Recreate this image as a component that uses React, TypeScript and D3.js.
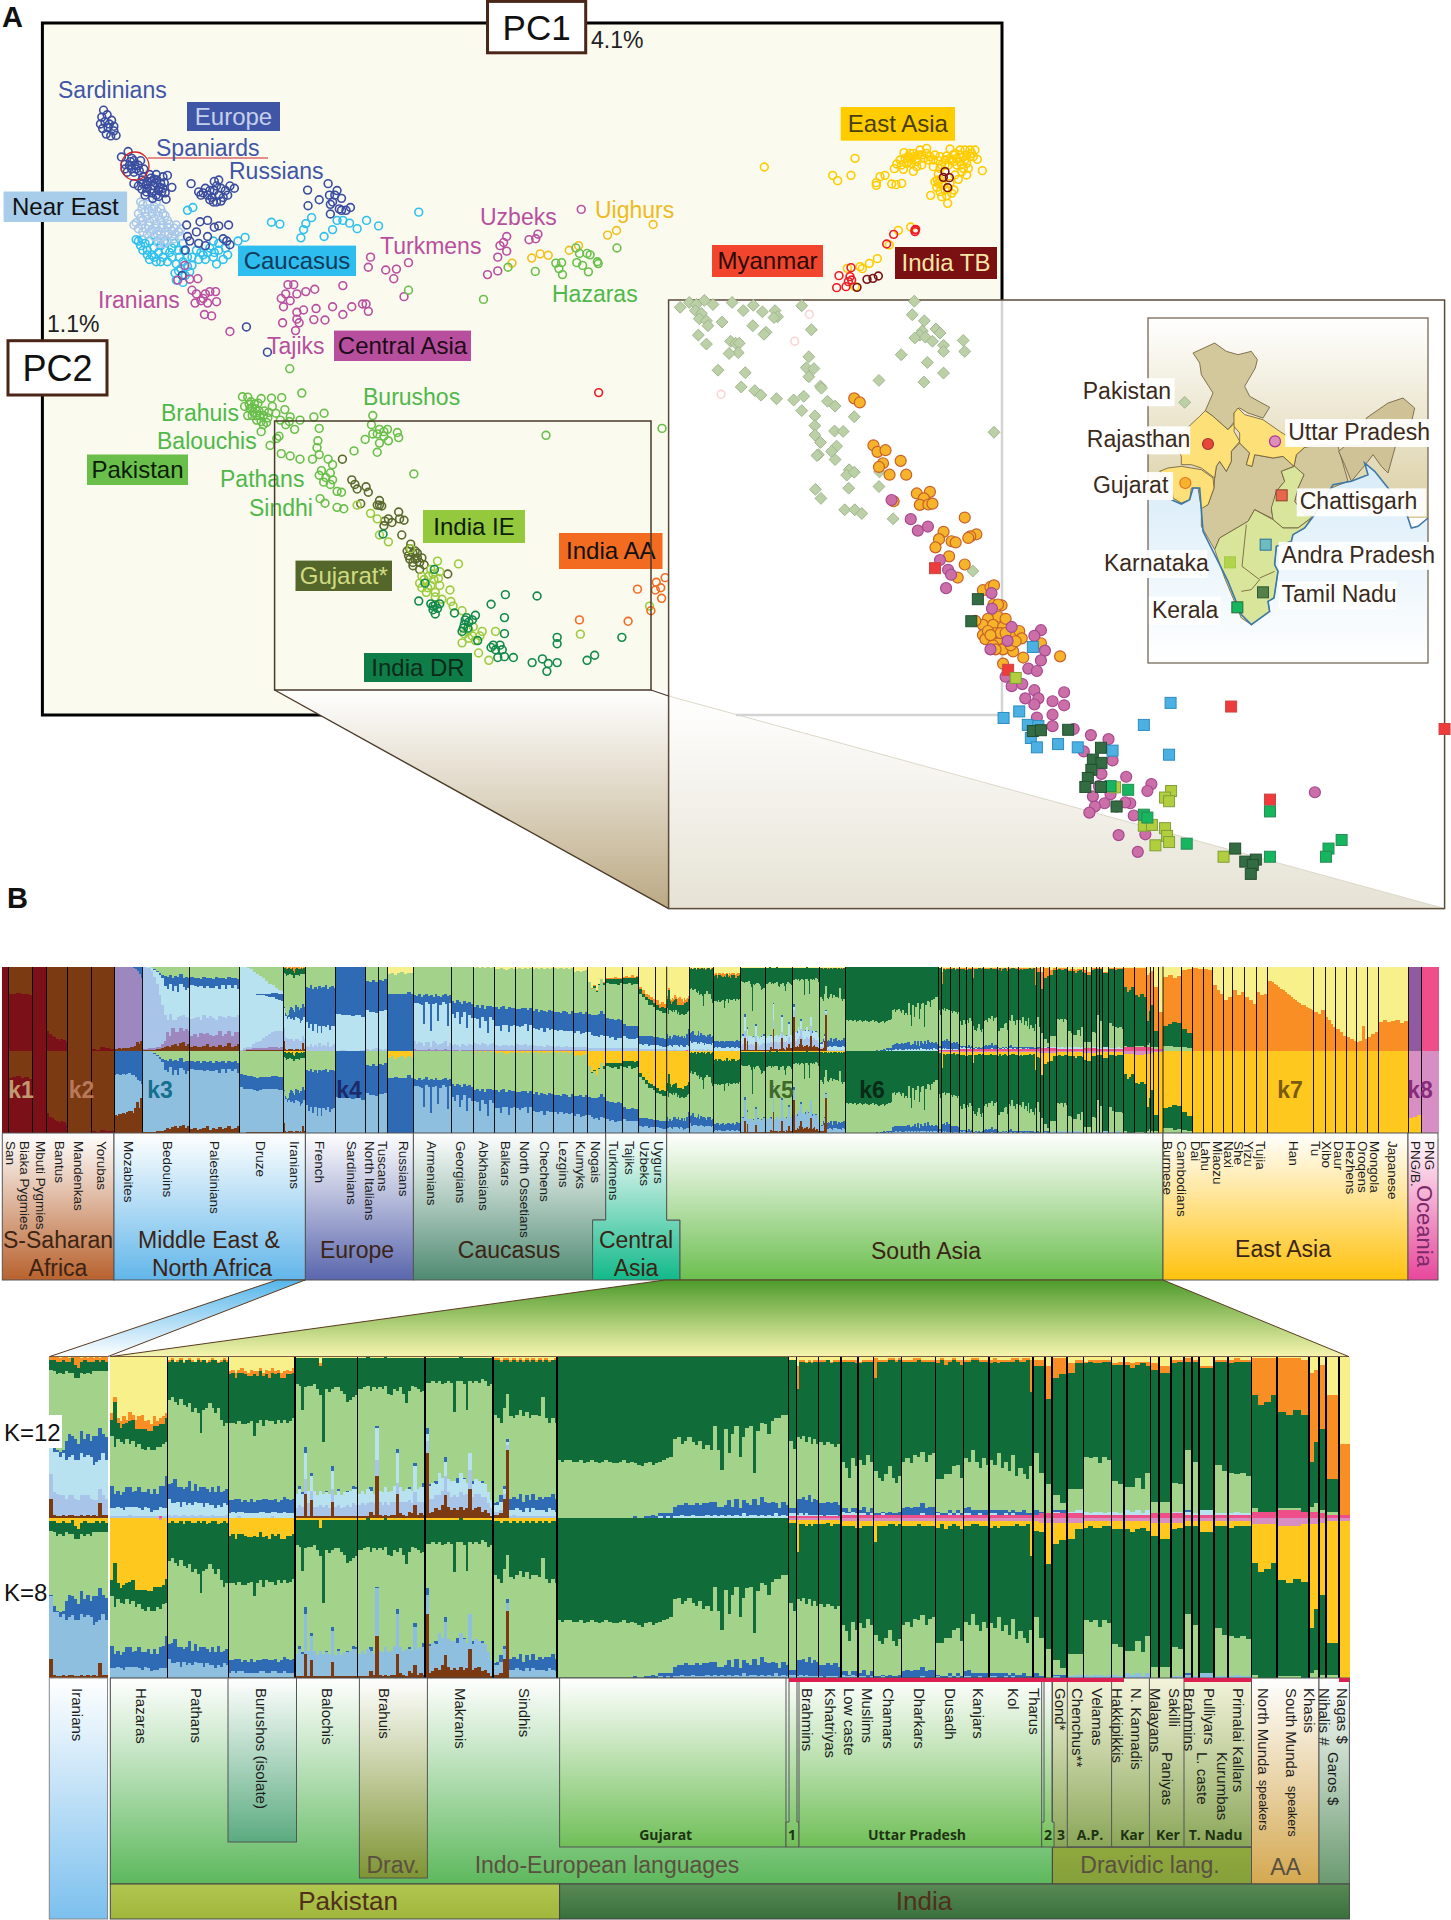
import React from 'react';
import * as d3 from 'd3';

type Pt = [number, number];
type Row = Record<string, number>;
interface Pop { name: string; n: number; rows: Row[] }
type Scale = d3.ScaleLinear<number, number>;

// ---------- PCA scores ----------
const sardinians: Pt[] = [[232,240],[228,255],[240,250],[225,270],[235,265],[250,262],[242,278],[255,285],[238,292],[260,295],[248,296],[230,280],[245,270],[255,275]];
const europeans: Pt[] = [[287,330],[272,342],[300,350],[310,360],[290,360],[285,375],[300,375],[315,350],[295,345],[280,358],[305,368],[322,368],[300,400],[320,385],[340,395],[330,410],[350,380],[365,385],[375,382],[385,408],[370,420],[372,434],[355,428],[340,420],[325,425],[310,405],[345,405],[360,400],[335,380],[320,400],[355,415],[330,395],[345,390],[365,410],[350,425],[292,352],[302,360],[295,368],[312,372],[280,368],[318,392],[328,402],[338,388],[348,398],[358,408],[368,398],[338,412],[328,418],[318,412],[352,392],[362,418],[342,432],
  [428,400],[445,418],[460,410],[450,425],[470,415],[480,395],[490,392],[495,410],[475,430],[485,440],[500,430],[510,425],[525,410],[515,405],[470,435],[455,420],[490,425],[505,415],[465,425],[480,415],[485,405],[478,440],[495,438],
  [689,414],[735,400],[715,435],[690,448],[738,425],[755,415],[765,432],[740,445],[740,466],[760,455],[785,452],[775,458],[765,458],[750,425],[745,440],
  [418,490],[448,483],[420,515],[465,480],[480,495],[490,492],[512,490],[440,505],[465,515],[425,525],[445,530],[460,535],[415,545],[500,520],[515,533],[508,525],[408,600],[552,712],[599,767]];
const nearEast: Pt[] = [[315,440],[330,445],[345,450],[360,455],[310,465],[325,462],[340,465],[355,470],[370,470],[305,485],[320,480],[335,483],[350,488],[365,490],[380,488],[395,490],[310,498],[325,497],[340,500],[355,503],[370,505],[385,503],[400,505],[345,515],[360,520],[375,525],[390,520],[405,515],[330,510],[320,445],[350,440],[375,480],[360,510],[385,515],[340,455],[300,490],[318,455],[332,455],[352,460],[365,465],[315,475],[328,472],[345,477],[360,480],[375,495],[390,497],[318,490],[333,492],[348,497],[362,497],[378,510],[392,510],[352,510],[338,505],[405,498],[320,505],[368,530],[355,530]];
const caucasus: Pt[] = [[420,458],[432,452],[310,525],[320,545],[335,565],[350,570],[365,560],[380,550],[325,530],[345,540],[360,535],[390,530],[305,522],[400,590],[395,610],[410,615],[420,580],[395,575],[430,560],[455,555],[470,540],[485,575],[500,565],[510,555],[490,530],[478,525],[549,517],[533,525],[480,550],[460,565],[440,545],[420,560],[608,484],[627,488],[674,518],[680,500],[685,487],[698,474],[726,515],[745,500],[755,480],[768,480],[783,486],[800,498],[821,480],[848,492],[938,462],[315,535],[330,545],[340,555],[355,550],[370,545],[385,560],[375,570],[360,570],[345,560],[330,555],[318,522],[335,525],[352,525],[368,525],[385,540],[400,545],[410,570],[405,585],[392,595],[415,600],[425,592],[445,565],[450,550],[465,550],[478,560],[490,545],[505,540],[430,578],[410,530],[402,560],[412,545]];
const centralAsia: Pt[] = [[430,632],[443,607],[425,608],[398,610],[414,578],[440,640],[455,650],[470,635],[483,635],[485,657],[460,640],[450,655],[437,660],[465,660],[458,685],[474,688],[515,722],
  [645,620],[658,620],[640,640],[630,650],[650,655],[665,640],[685,635],[705,630],[768,622],[635,668],[665,680],[680,675],[708,672],[745,668],[768,685],[788,668],[812,662],[820,662],[825,678],[665,695],[703,696],[728,697],[633,703],[670,703],[662,720],
  [830,560],[825,582],[864,588],[888,586],[915,572],[882,607],[905,646],[1135,515],[1128,528],[1120,535],[1135,547],[1115,560],[1185,522],[1205,510],[1200,520],[1115,590],[1092,598],[1302,456]];
const uighurs: Pt[] = [[1147,573],[1191,562],[1210,553],[1228,556],[1275,545],[1296,535],[1361,512],[1381,502],[1463,489]];
const pakistan: Pt[] = [[1138,582],[1199,591],[1245,573],[1258,572],[1252,585],[1260,598],[1290,540],[1298,552],[1315,552],[1322,555],[1292,572],[1305,578],[1318,592],[1338,570],[1340,574],[1382,540],[1083,652],[915,632],[649,803],
  [543,864],[555,865],[585,868],[608,867],[631,866],[676,856],[548,885],[560,890],[570,880],[580,895],[590,905],[575,915],[565,905],[590,925],[600,910],[555,905],[610,885],[638,892],[650,908],[672,915],[660,935],[640,925],[726,900],[703,908],[715,933],[625,950],[605,970],[585,940],[620,955],[835,905],[832,925],[850,935],[835,945],[868,935],[890,942],[893,953],[860,950],[818,957],[850,965],[845,985],[870,960],[793,982],[712,960],[710,975],[630,988],[650,993],[672,1000],[700,1000],[715,990],[735,1000],[745,1012],[720,1025],[740,1030],[725,1050],[740,1055],[755,1070],[765,1072],[717,1086],[728,1096],[755,1105],[770,1108],[927,1032],[1223,948],[1483,933],
  [562,875],[572,890],[582,905],[568,898],[558,880],[578,878],[592,895],[602,898],[575,905],[585,918],[597,920],[565,888],[618,900],[628,915],[648,918],[845,945],[860,940],[715,1035],[730,1040],[745,1045]];
const gujaratStar: Pt[] = [[767,1000],[788,1045],[795,1055],[800,1065],[820,1060],[825,1072],[808,1097],[850,1090],[845,1100],[855,1102],[893,1115],[905,1133],[870,1130],[860,1145],[878,1138],[900,1165],[920,1185],[930,1200],[915,1210],[925,1225],[940,1240],[950,1230],[935,1215],[1003,1250],[895,1130],[918,1195],[925,1205],[935,1205],[918,1218],[930,1218],[940,1225],[925,1232],[945,1215],[912,1200],[850,1100],[862,1135]];
const indiaIE: Pt[] = [[800,1100],[830,1118],[845,1130],[850,1165],[870,1180],[920,1195],[945,1255],[965,1240],[980,1222],[985,1245],[940,1270],[955,1290],[975,1290],[965,1275],[1008,1285],[1027,1228],[1010,1310],[990,1305],[1035,1330],[1060,1365],[1080,1375],[1050,1390],[1035,1400],[1072,1422],[1095,1438],[1110,1375],[1300,1381],[1455,1320],[1015,1320],[1040,1380],[1065,1395],[950,1262],[960,1255],[972,1262],[958,1280],[945,1280],[985,1275],[975,1300],[970,1250],[982,1260],[1050,1372],[1058,1385],[1075,1385]];
const indiaDR: Pt[] = [[858,1163],[973,1240],[952,1270],[938,1309],[970,1320],[980,1325],[975,1337],[1018,1335],[1045,1345],[1040,1360],[1065,1340],[1035,1375],[1100,1316],[1132,1295],[1203,1298],[1130,1345],[1130,1380],[1105,1405],[1125,1415],[1130,1430],[1115,1432],[1150,1432],[1248,1388],[1248,1402],[1192,1443],[1215,1435],[1228,1445],[1248,1443],[1225,1462],[1332,1427],[1315,1438],[1393,1388],[1070,1395],[1100,1410],[965,1315],[975,1318],[985,1315],[970,1328],[1042,1350],[1050,1355],[1038,1368],[1048,1368],[1058,1350],[1110,1415],[1120,1405]];
const indiaAA: Pt[] = [[1428,1283],[1298,1350],[1407,1353],[1470,1268],[1490,1258],[1480,1280],[1468,1285],[1482,1303],[1458,1330]];
const paleAA: Pt[] = [[1520,1222],[1548,1222],[1505,1270],[1565,1190]];
const indiaRed: Pt[] = [[1341,855]];

// upper right corner of panel A
const eastAsia: Pt[] = [[193,201],[465,175],[398,226],[413,242],[453,226],[529,248],[529,256],[540,230],[555,226],[575,252],[588,254],[605,250],[583,206],[590,192],[600,180],[610,208],[612,158],[625,170],[635,190],[640,214],[650,200],[655,165],[660,150],[680,145],[672,175],[690,170],[700,180],[720,170],[735,180],[750,147],[765,160],[780,150],[795,150],[810,150],[825,150],[820,170],[832,178],[847,212],[800,190],[780,185],[760,185],[745,195],[790,205],[800,225],[775,238],[715,222],[712,240],[725,195],[710,262],[720,275],[692,286],[725,290],[740,287],[743,310],[762,270],[745,265],[730,255],[620,190],[650,185],[605,195],[630,175],[665,195],[700,200],[720,205],[760,165],[780,165],[810,170],[790,170],[630,160],
  [615,175],[640,170],[650,175],[665,165],[680,160],[685,180],[705,165],[715,182],[740,168],[750,175],[770,175],[800,165],[815,160],[795,180],[785,195],[770,195],[755,180],[735,195],[625,185],[640,160],[720,240],[725,250],[735,270],[750,250],[755,280],[715,250],[705,245],[765,225],[785,215],[805,205],
  [595,391],[632,381],[568,435],[532,476],[508,490],[487,506],[480,500],[442,505],[465,560]];
const myanmar: Pt[] = [[417,527],[410,563],[438,560],[453,503],[450,530],[445,545],[455,540],[560,432],[581,403],[645,395],[647,388],[645,390]];
const indiaTB: Pt[] = [[735,215],[730,232],[748,233],[743,263],[501,538],[519,535],[535,528],[471,562]];

// enlarged view of panel A
const pakistanInset: Pt[] = [[40,67],[58,55],[72,60],[88,50],[105,60],[70,75],[82,82],[78,95],[92,100],[95,112],[123,103],[76,135],[92,157],[143,55],[165,75],[185,62],[203,78],[228,75],[233,90],[226,92],[281,63],[300,122],[184,112],[210,128],[206,133],[140,150],[150,155],[157,155],[155,178],[137,180],[295,188],[290,215],[305,217],[295,237],[115,221],[169,227],[161,262],[188,271],[200,282],[231,291],[265,294],[285,285],[318,260],[320,265],[332,297],[347,309],[281,320],[307,333],[385,335],[307,357],[346,370],[363,371],[307,380],[318,398],[350,407],[340,420],[314,428],[311,430],[347,440],[375,465],[370,478],[385,471],[435,470],[374,510],[434,506],[308,513],[319,535],[366,563],[386,563],[400,572],[462,585],[504,52],[500,85],[524,100],[547,120],[520,125],[515,135],[505,142],[526,140],[555,130],[540,150],[601,148],[562,160],[604,175],[562,175],[478,183],[530,202],[562,228],[434,246],[523,250],[662,373],[620,713]];
const paleInset: Pt[] = [[296,84],[267,150],[121,280]];
const gujaratInset: Pt[] = [[385,290],[396,300],[423,405],[431,421],[447,417],[442,449],[434,458],[477,443],[455,477],[488,477],[509,523],[535,519],[523,535],[515,551],[532,550],[540,548],[604,582],[562,617],[627,623],[615,628],[611,632],[553,635],[578,640],[586,643],[546,655],[573,677],[604,697],[590,729],[640,760],[655,752],[662,748],[677,797],[661,795],[670,825],[650,830],[640,845],[660,845],[680,850],[700,870],[712,860],[717,878],[640,870],[645,880],[670,880],[690,885],[680,905],[700,910],[720,925],[680,940],[793,922],[755,890],[463,542],[665,865],[685,830],[625,835],[670,795],[650,860],[675,865],[695,895],[660,895],[655,870],[685,865],[665,905],[705,885]];
const uttarInset: Pt[] = [[459,539],[497,586],[511,614],[531,604],[555,686],[571,710],[577,722],[567,755],[657,767],[658,805],[697,850],[755,858],[742,872],[689,884],[655,905],[763,908],[755,932],[730,952],[747,958],[685,972],[697,995],[718,990],[742,1005],[724,1025],[750,1025],[742,1040],[778,1032],[801,1010],[801,1042],[778,1065],[747,1072],[778,1093],[820,1100],[854,1115],[889,1125],[840,1155],[897,1177],[875,1210],[924,1217],[974,1235],[966,1252],[858,1265],[893,1260],[881,1282],[862,1290],[851,1305],[905,1290],[932,1282],[922,1280],[939,1312],[962,1358],[909,1360],[947,1401],[1298,1255],[870,1240]];
const chattisgarhInset: Pt[] = [[545,706],[1132,1045],[1209,1273],[1555,1100],[690,955]];
const andraInset: Pt[] = [[739,899],[681,1073],[712,1057],[729,1090],[750,1093],[735,1122],[747,1145],[789,1137],[828,1145],[897,1153],[1012,1036],[959,1090],[1009,1163]];
const tamilInset: Pt[] = [[630,782],[617,836],[739,1105],[755,1103],[809,1102],[874,1146],[858,1175],[875,1183],[855,1200],[848,1220],[843,1242],[874,1242],[905,1290],[1140,1393],[1160,1425],[1181,1420],[1175,1433],[1171,1455]];
const keralaInset: Pt[] = [[893,1240],[928,1249],[959,1310],[966,1317],[1044,1381],[1209,1302],[1209,1413],[1325,1393],[1351,1372],[1320,1413]];
const karnatakaInset: Pt[] = [[705,975],[902,1243],[1013,1252],[1001,1268],[1009,1277],[959,1337],[975,1335],[1001,1343],[1005,1362],[1009,1377],[982,1385],[1117,1413]];

// India outlines for the small map
const mapNorth: Pt[] = [[135,105],[200,75],[235,100],[270,110],[310,100],[328,125],[322,150],[290,205],[305,235],[365,268],[345,300],[300,285],[275,270],[258,285],[260,310],[240,335],[195,295],[172,278],[195,225],[160,170],[155,135]];
const mapRajasthan: Pt[] = [[172,278],[195,295],[240,335],[260,315],[258,340],[275,370],[250,400],[250,430],[235,460],[215,430],[205,445],[200,480],[160,450],[130,440],[100,440],[100,415],[78,370],[128,320],[155,295]];
const mapUttar: Pt[] = [[258,285],[270,270],[290,290],[345,305],[395,340],[470,388],[445,410],[438,445],[405,415],[375,420],[320,410],[312,445],[295,440],[305,405],[275,375],[275,345],[258,325]];
const mapGujarat: Pt[] = [[35,460],[60,450],[100,445],[160,455],[195,480],[198,510],[180,560],[160,572],[150,510],[130,510],[125,545],[100,555],[75,540],[70,490]];
const mapCentral: Pt[] = [[275,375],[305,405],[295,440],[312,445],[320,410],[375,420],[405,415],[438,445],[400,460],[410,490],[385,520],[370,580],[380,605],[320,575],[300,610],[215,660],[200,695],[160,625],[160,570],[180,560],[198,510],[200,480],[205,445],[215,430],[235,460],[250,430],[250,400]];
const mapEastState: Pt[] = [[400,460],[440,445],[468,470],[450,510],[440,550],[470,590],[495,595],[450,630],[405,630],[375,605],[370,570],[385,520],[410,490]];
const mapSouth: Pt[] = [[320,575],[375,605],[405,630],[450,630],[490,600],[470,630],[435,650],[430,670],[385,685],[380,740],[390,760],[378,840],[360,850],[365,880],[330,905],[310,920],[280,900],[230,780],[200,695],[215,660],[300,610]];
const mapBorders: Pt[] = [[295,620],[282,745],[335,785],[310,815],[280,820]];
const mapBorders2: Pt[] = [[335,780],[380,760]];
const mapBihar: Pt[] = [[470,388],[520,380],[570,385],[600,490],[550,510],[495,595],[470,590],[440,550],[450,510],[468,470],[438,445],[445,410]];
const mapNorthEast: Pt[] = [[572,400],[590,385],[650,380],[655,300],[720,255],[765,240],[800,270],[790,315],[745,375],[720,465],[700,445],[675,410],[660,430],[610,490],[590,440]];
const mapCoast: Pt[] = [[70,545],[100,558],[125,545],[135,510],[155,510],[160,575],[165,640],[200,710],[240,790],[280,890],[310,920],[365,880],[360,850],[378,840],[390,760],[380,740],[385,685],[430,670],[435,650],[470,630],[500,590],[555,500],[610,490],[660,470],[650,435],[680,460],[720,510],[770,570],[790,630],[810,625],[840,600]];

const mapPlaces: { label: string; at: Pt; labelAt: Pt }[] = [
  { label: 'Pakistan', at: [110, 253], labelAt: [838, 292] },
  { label: 'Rajasthan', at: [180, 378], labelAt: [846, 410] },
  { label: 'Uttar Pradesh', at: [381, 370], labelAt: [1245, 392] },
  { label: 'Gujarat', at: [112, 495], labelAt: [858, 522] },
  { label: 'Chattisgarh', at: [401, 532], labelAt: [1268, 562] },
  { label: 'Andra Pradesh', at: [353, 680], labelAt: [1232, 693] },
  { label: 'Karnataka', at: [246, 733], labelAt: [880, 713] },
  { label: 'Tamil Nadu', at: [345, 823], labelAt: [1232, 790] },
  { label: 'Kerala', at: [268, 868], labelAt: [975, 827] },
];

// ---------- ancestry proportions (percent), panel B ----------
const pop = (name: string, n: number, filler: string, keys: string[], rows: number[][]): Pop => ({
  name, n,
  rows: rows.map(vals => {
    const row: Row = {};
    keys.forEach((k, i) => { row[k] = vals[i] || 0; });
    row[filler] = Math.max(0, 100 - d3.sum(keys, (_, i) => vals[i] || 0));
    return row;
  }),
});

const brownOnly = ['brown'];
const menaKeys = ['light', 'blue', 'cyan', 'mauve', 'brown'];
const euroKeys = ['light', 'blue', 'peri'];
const caucKeys = ['yellow', 'light', 'blue', 'peri', 'mauve'];
const steppeKeys = ['yellow', 'orange', 'dark', 'light', 'blue', 'peri'];
const eastKeys = ['yellow', 'dark', 'light'];
const southKeys = ['dark', 'yellow', 'orange', 'blue', 'cyan', 'peri', 'brown', 'pink'];

const iranians = pop('Iranians', 47, 'light', southKeys, [[6,0,2,1,24,15,12],[7,0,2,4,25,14,2],[8,0,3,1,26,14,1],[7,1,2,3,24,13,1],[9,0,2,2,26,12,2],[6,0,3,12,24,11,1],[7,1,2,14,24,12,2],[9,0,1,12,25,12,2],[8,0,5,13,24,11,1],[6,0,7,10,25,10,1],[7,1,2,14,26,12,2],[9,0,2,11,24,13,1],[7,1,2,13,25,12,2],[8,0,3,10,26,11,1],[6,1,2,18,22,9,2],[7,0,2,16,24,10,1],[6,1,2,20,18,9,9],[7,0,2,12,26,12,2],[6,0,3,14,24,10,2]]);

const overviewLeft: Pop[] = [
  pop('San', 13, 'red', brownOnly, [[0]]),
  pop('Biaka Pygmies', 52, 'red', brownOnly, [[33],[32],[31],[33],[32],[34]]),
  pop('Mbuti Pygmies', 30, 'red', brownOnly, [[0]]),
  pop('Bantus', 45, 'red', brownOnly, [[76],[80],[82],[84],[86],[88],[86],[87],[90]]),
  pop('Mandenkas', 51, 'red', brownOnly, [[100]]),
  pop('Yorubas', 49, 'red', brownOnly, [[98],[99],[96],[97],[98]]),
  pop('Mozabites', 61, 'mauve', ['mz', 'mb', 'brown', 'blue'], [[29,20,2,0],[28,19,2,0],[30,20,3,0],[29,21,2,0],[28,21,3,0],[30,20,3,0],[28,22,3,0],[27,24,3,0],[29,22,5,0],[28,20,4,1],[29,24,6,3],[30,28,10,5],[28,22,8,9],[27,30,12,14]]),
  pop('Bedouins', 102, 'peri', menaKeys, [[0,0,0,1,1],[0,0,1,1,1],[0,0,2,2,1],[1,0,4,2,1],[3,1,8,2,1],[5,1,14,3,2],[8,2,24,3,2],[10,4,32,5,3],[11,12,34,8,4],[12,14,38,16,6],[10,10,36,12,5],[13,16,34,20,7],[11,12,40,14,8],[12,18,30,16,6],[9,12,38,18,9],[14,10,34,14,10],[12,16,32,20,6],[13,12,36,15,8]]),
  pop('Palestinians', 107, 'peri', menaKeys, [[12,10,40,12,5],[14,9,38,14,6],[13,11,36,12,4],[15,8,40,16,5],[12,13,33,14,6],[14,9,38,13,8],[13,12,34,15,4],[15,10,36,12,6],[12,11,40,14,5],[14,13,32,16,7],[13,9,38,12,5],[15,12,34,14,6],[12,10,37,15,9],[14,11,35,13,5],[13,9,38,16,6],[15,12,30,14,8]]),
  pop('Druze', 94, 'cyan', ['light', 'blue', 'cb', 'cl', 'peri', 'mauve', 'brown'], [[0,0,16,28,1,0,0],[0,0,17,29,2,1,0],[1,0,16,30,2,1,1],[3,0,15,28,3,1,1],[6,0,16,26,5,2,1],[9,1,15,24,7,2,1],[11,2,14,21,9,2,1],[14,2,13,18,12,2,1],[17,3,12,15,14,2,1],[20,4,11,12,16,3,1],[22,5,10,9,18,3,1],[25,7,9,6,19,3,1],[28,8,8,4,20,2,1],[29,9,7,3,18,4,1]]),
  { ...iranians },
  pop('French', 64, 'cyan', euroKeys, [[24,42,6],[25,48,4],[22,46,8],[26,50,5],[24,44,7],[27,52,4],[23,47,9],[25,54,5],[24,46,7],[22,50,6],[26,43,10],[24,51,5],[23,48,6],[25,45,8]]),
  pop('Sardinians', 65, 'cyan', euroKeys, [[0,56,0],[0,57,1],[0,58,0],[0,59,0],[0,57,0],[0,60,1]]),
  pop('North Italians', 27, 'cyan', euroKeys, [[17,35,2],[18,36,1],[16,38,2],[18,37,3]]),
  pop('Tuscans', 20, 'cyan', euroKeys, [[16,37,2],[17,36,1],[15,36,2]]),
  pop('Russians', 56, 'blue', ['yellow', 'light'], [[9,24],[7,26],[10,22],[8,25],[6,27],[9,24],[7,23],[8,25]]),
  pop('Armenians', 81, 'cyan', caucKeys, [[0,34,9,9,2],[0,35,8,7,1],[0,33,11,9,1],[0,36,9,8,1],[0,34,34,5,1],[0,32,10,9,1],[0,35,9,8,2],[0,34,42,4,1],[0,36,8,10,1],[0,33,10,7,2],[0,35,30,6,1],[0,36,9,7,1],[0,34,8,8,1],[0,33,11,9,2],[0,35,36,5,1],[0,34,9,8,1]]),
  pop('Georgians', 47, 'cyan', caucKeys, [[0,41,15,6,1],[0,43,18,7,1],[0,40,14,6,1],[0,42,26,5,0],[0,44,16,7,1],[0,41,13,6,1],[0,43,30,5,1],[0,42,15,7,1],[0,44,17,6,1]]),
  pop('Abkhasians', 46, 'cyan', caucKeys, [[1,47,13,8,1],[0,46,16,7,1],[1,48,24,6,1],[0,46,14,8,1],[1,49,15,7,1],[0,47,32,5,1],[1,46,13,7,1],[0,48,16,8,1]]),
  pop('Balkars', 45, 'cyan', caucKeys, [[3,45,22,6,1],[3,47,20,5,1],[2,46,28,5,1],[3,44,22,6,1],[4,46,19,6,1],[3,45,30,5,1],[2,47,21,6,1],[3,46,20,5,1]]),
  pop('North Ossetians', 36, 'cyan', caucKeys, [[3,47,20,7,1],[2,48,22,6,1],[3,46,21,6,1],[2,47,19,7,1],[3,49,24,5,1],[2,47,20,6,1]]),
  pop('Chechens', 46, 'cyan', caucKeys, [[3,50,20,6,1],[2,48,24,5,1],[3,51,21,5,1],[2,49,22,5,1],[3,50,25,4,1],[2,52,19,6,1],[3,49,23,5,1],[2,51,21,5,1]]),
  pop('Lezgins', 43, 'cyan', caucKeys, [[2,52,21,4,1],[3,51,23,5,1],[2,53,20,4,1],[3,50,24,4,1],[2,52,22,5,1],[3,53,21,4,1],[2,51,23,4,1]]),
  pop('Kumyks', 30, 'cyan', caucKeys, [[6,49,24,4,1],[5,50,22,4,1],[6,48,26,3,1],[5,51,23,4,1],[4,50,24,4,1]]),
  pop('Nogais', 38, 'cyan', steppeKeys, [[18,0,0,38,22,3],[25,1,1,30,24,3],[22,1,2,32,26,3],[28,1,1,28,24,3],[20,1,1,34,28,3],[15,0,0,38,28,3],[18,1,3,34,26,3]]),
  pop('Turkmens', 37, 'cyan', steppeKeys, [[14,1,4,42,22,3],[13,2,5,42,23,3],[14,1,6,41,22,3],[12,3,5,43,24,3],[14,1,7,40,23,3],[13,2,4,44,22,3]]),
  pop('Tajiks', 35, 'cyan', steppeKeys, [[12,1,7,48,15,3],[11,2,8,50,14,3],[12,1,6,52,15,3],[10,3,9,48,16,3],[12,2,7,50,15,3],[11,1,8,51,14,3]]),
  pop('Uzbeks', 36, 'cyan', steppeKeys, [[24,3,5,50,10,2],[28,4,4,46,11,2],[32,4,4,42,10,2],[34,5,6,38,11,2],[36,4,5,38,10,2],[38,5,5,36,9,2]]),
  pop('Uygurs', 24, 'cyan', steppeKeys, [[40,5,6,33,9,2],[44,5,4,32,9,2],[42,6,7,30,10,2],[44,5,6,31,9,2]]),
];

const overviewEast: Pop[] = [
  pop('Burmese', 39, 'orange', eastKeys, [[12,24,6],[10,26,6],[14,30,4],[11,28,5]]),
  pop('Cambodians', 24, 'orange', eastKeys, [[4,22,4],[3,18,3]]),
  pop('Dai', 23, 'orange', eastKeys, [[2],[3]]),
  pop('Lahu', 20, 'orange', eastKeys, [[3],[4]]),
  pop('Miaozu', 24, 'orange', eastKeys, [[22],[28],[32]]),
  pop('Naxi', 20, 'orange', eastKeys, [[40],[36]]),
  pop('She', 25, 'orange', eastKeys, [[28],[34],[30]]),
  pop('Yizu', 25, 'orange', eastKeys, [[36],[40],[44]]),
  pop('Tujia', 24, 'orange', eastKeys, [[30],[34],[32]]),
  pop('Han', 99, 'orange', eastKeys, [[17],[17],[18],[20],[22],[24],[26],[28],[30],[32],[34],[36],[38],[40],[42],[43],[45],[46],[48],[49],[50],[52]]),
  pop('Tu', 25, 'orange', eastKeys, [[54],[56],[52]]),
  pop('Xibo', 22, 'orange', eastKeys, [[60],[64],[68],[72]]),
  pop('Daur', 23, 'orange', eastKeys, [[74],[78],[82]]),
  pop('Hezhens', 22, 'orange', eastKeys, [[84],[86],[88]]),
  pop('Oroqens', 23, 'orange', eastKeys, [[90],[88],[70],[86]]),
  pop('Mongola', 24, 'orange', eastKeys, [[84],[80],[78]]),
  pop('Japanese', 64, 'orange', eastKeys, [[66],[64],[66],[65],[64],[67],[65]]),
  pop('PNG/B.', 28, 'purple', ['pg'], [[18],[20],[22]]),
  pop('PNG', 36, 'pink', ['x'], [[0]]),
];

const L = 'light';
const guj = (dark: number, blue = 0, cyan = 0) => [dark, 0, 0, blue, cyan];
const southAsians: Pop[] = [
  pop('Hazaras', 123, L, southKeys, [[10,35,4,14,5,1],[28,25,3,9,5,1],[10,38,3,10,6,1],[9,40,4,8,5,1],[12,37,5,11,4,1],[10,39,2,12,6,1],[14,34,6,12,5,2],[13,36,3,9,6,1],[11,39,6,10,6,1],[9,37,8,13,5,1],[12,36,9,11,4,1],[13,40,5,9,6,1],[10,39,7,12,5,1],[12,42,4,11,3,1],[15,37,6,13,4,1],[13,40,3,10,4,1],[14,38,4,13,6,0,0,1],[12,37,5,14,5,1],[15,35,3,20,5,1]]),
  pop('Pathans', 130, L, southKeys, [[24,2,1,9,10,2],[23,1,1,13,8,1],[25,3,0,15,7,2],[27,2,1,9,9,1],[24,1,1,12,6,1],[26,3,1,8,8,2],[29,2,0,11,7,1],[27,1,1,14,8,1],[31,2,1,9,6,2],[29,3,0,11,9,1],[33,1,1,8,8,1],[44,2,1,10,7,2],[31,2,0,12,6,1],[28,3,1,9,8,1],[26,2,1,8,7,1],[30,1,1,11,6,2],[33,2,0,10,5,1],[28,3,1,12,7,1],[36,2,1,9,6,1],[41,1,1,8,8,1],[38,2,1,10,6,2]]),
  pop('Burushos', 143, L, southKeys, [[30,9,2,8,3],[31,8,2,7,4],[29,10,3,9,3],[30,8,2,8,3,1],[32,7,3,6,4],[31,9,2,8,3],[29,10,2,7,3],[28,8,4,9,3],[38,9,2,7,3],[29,9,3,8,3],[30,7,2,7,4],[31,10,2,8,4],[28,8,3,9,3],[27,9,4,8,3],[30,7,3,7,3,1],[31,9,2,8,4],[29,8,2,7,3],[28,10,3,8,3],[26,9,4,9,4],[30,8,3,9,3],[29,9,2,8,3],[28,7,3,9,3]]),
  pop('Balochis', 134, L, southKeys, [[16,1,0,0,9,5,1],[17,1,0,2,10,7,1],[32,1,0,1,8,6,1],[18,1,0,4,16,9,15],[17,1,0,0,8,8,1],[17,1,0,2,9,6,11],[16,1,0,0,10,6,1],[19,1,0,0,7,6,1],[18,4,2,0,9,7,1],[52,1,0,0,8,6,1],[19,1,0,1,8,7,1],[21,1,0,0,9,5,1],[19,1,0,3,11,8,10],[18,1,0,0,7,6,1],[18,1,0,1,9,7,1],[20,1,0,0,8,5,1],[22,1,0,0,9,6,1],[27,1,0,1,8,7,1],[26,1,0,0,10,6,1],[24,1,0,2,9,8,1],[23,1,0,1,10,7,1]]),
  pop('Brahuis', 145, L, southKeys, [[19,1,0,0,7,7,1],[19,1,0,0,8,8,1],[18,1,0,0,7,7,1],[18,0,0,0,9,8,1],[20,1,0,2,7,6,4],[18,1,0,0,6,7,2],[19,1,0,1,20,10,26],[18,1,0,0,7,8,2],[19,1,0,0,8,7,1],[18,0,0,0,9,8,2],[22,1,0,0,8,7,1],[23,1,0,0,7,8,2],[19,1,0,0,10,8,2],[20,1,0,3,18,7,15],[18,1,0,0,9,7,3],[22,1,0,0,7,8,2],[28,1,0,0,8,9,1],[20,1,0,1,7,7,4],[17,1,0,0,8,6,3],[18,1,0,2,16,8,8],[19,1,0,0,8,8,2],[21,1,0,0,9,7,3],[20,1,0,3,9,8,2]]),
  pop('Makranis', 145, L, southKeys, [[15,1,0,4,4,8,40],[15,1,0,1,8,9,3],[14,1,0,0,10,8,4],[15,1,0,2,7,8,6],[14,1,0,0,14,9,5],[16,1,0,0,8,9,8],[15,1,0,3,9,12,14],[14,1,0,0,8,9,7],[15,1,0,0,10,8,5],[33,1,0,0,9,8,6],[14,1,0,3,9,8,5],[15,0,0,0,12,9,7],[16,1,0,1,10,9,5],[32,1,0,0,7,9,6],[14,1,0,0,10,12,18],[15,1,0,2,8,8,5],[14,1,0,0,9,9,6],[15,1,0,0,8,8,7],[13,1,0,1,9,9,4],[14,1,0,0,8,8,5],[17,1,0,0,7,6,3],[16,1,0,0,5,5,1]]),
  pop('Sindhis', 138, L, southKeys, [[34,1,1,1,4,2,2],[36,1,1,2,4,2,2],[38,2,1,4,5,2,3],[30,1,1,2,3,3,12],[21,1,1,2,2,3,42],[34,2,1,7,4,1],[36,1,1,8,3,2],[33,2,1,6,5,1],[31,1,1,10,4,1],[34,2,1,6,3,1],[32,1,1,8,5,1],[35,2,1,7,3,1],[34,1,1,9,5,1],[33,2,1,6,4,1],[35,1,1,8,4,1],[22,2,1,7,4,1],[36,1,1,9,3,1],[38,2,1,7,5,1],[36,2,0,10,4,1],[39,1,1,8,3,1]]),
  pop('Gujarat', 496, L, southKeys, [guj(64),guj(65),guj(64),guj(64),guj(65),guj(65),guj(64),guj(66),guj(65),guj(64),guj(65),guj(66),guj(65),guj(64),guj(65),guj(66),guj(66),guj(65),guj(64),guj(66),guj(65),guj(66,1),guj(67),guj(68),guj(66,1),guj(65,1),guj(67,2),guj(66,1),guj(65,2,1),guj(64,3),guj(63,2,1),guj(62,3),
    guj(51,6,1),guj(50,7,1),guj(54,6,2),guj(52,8,1),guj(50,7,1),guj(53,6,2),guj(55,8,1),guj(52,7,1),
    guj(57,8,1),guj(55,7,2),guj(58,9,1),guj(43,8,2),guj(58,6,1),guj(70,5,2),guj(45,7,1),guj(60,9,2),guj(48,6,1),guj(43,10,2),guj(62,5,1),guj(50,8,3),guj(44,8,1),guj(43,6,2),guj(72,10,2),guj(46,7,1),guj(41,11,2),guj(42,9,1),guj(48,7,2),guj(40,9,1),guj(38,6,3),guj(38,5,1),guj(36,8,2),guj(36,7,1)]),
  pop('UP tribe', 17, L, southKeys, [[50,2,0,3,2,0,0,1],[55,2,0,3,2,0,0,1]]),
  pop('Brahmins', 47, L, southKeys, [[30,6,14,10,1,0,0,1],[48,2,1,9,2,0,0,1],[46,2,1,11,1,0,0,1],[49,3,1,8,2,0,0,1],[47,2,1,12,1,0,0,1],[50,3,1,8,1,0,0,1],[48,2,1,10,1,0,0,1],[51,2,1,9,1,0,0,1]]),
  pop('Kshatriyas', 48, L, southKeys, [[50,2,1,7,1,0,0,1],[52,2,1,8,0,0,0,1],[51,2,0,8,1,0,0,1],[50,3,1,7,1,0,0,1],[53,2,1,8,1,0,0,1],[51,2,1,7,0,0,0,1]]),
  pop('Low caste', 37, L, southKeys, [[62,2,1,2,2,0,0,2],[66,2,1,3,1,0,0,2],[72,2,1,1,1,0,0,2],[60,2,1,2,2,0,0,2],[64,2,2,3,1,0,0,2]]),
  pop('Muslims', 33, L, southKeys, [[60,3,1,2,1,0,0,2],[64,2,1,4,1,0,0,2],[58,2,1,2,0,0,0,2],[62,2,1,3,1,0,0,2]]),
  pop('Chamars', 60, L, southKeys, [[58,1,12,1,0,0,0,2],[72,2,1,1,0,0,0,2],[74,2,1,1,1,0,0,2],[70,2,1,1,0,0,0,2],[66,1,1,2,0,0,0,2],[73,1,1,1,0,0,0,2],[75,2,1,1,0,0,0,2],[72,1,1,2,0,0,0,2]]),
  pop('Dharkars', 73, L, southKeys, [[62,2,1,4,0,0,0,2],[60,2,1,5,0,0,0,2],[63,2,1,4,0,0,0,2],[58,1,2,5,0,0,0,2],[60,1,1,5,0,0,0,2],[56,2,1,6,1,0,0,2],[62,2,1,4,0,0,0,2],[58,2,1,5,0,0,0,2],[57,2,1,5,0,0,0,2]]),
  pop('Dusadh', 60, L, southKeys, [[72,2,2,1,1,0,0,2],[74,1,1,1,0,0,0,2],[68,2,3,1,0,0,0,2],[70,2,1,2,1,0,0,2],[66,1,1,1,0,0,0,2],[64,2,1,2,1,0,0,2],[70,2,3,1,0,0,0,2]]),
  pop('Kanjars', 55, L, southKeys, [[60,2,1,3,1,0,0,2],[62,2,1,4,1,0,0,2],[56,1,1,3,0,0,0,2],[63,1,1,3,0,0,0,2],[66,2,1,2,1,0,0,2],[60,2,1,3,0,0,0,2],[64,2,1,3,0,0,0,2]]),
  pop('Kol', 94, L, southKeys, [[60,2,2,2,1,0,0,2],[64,1,2,2,1,0,0,2],[56,2,2,3,0,0,0,2],[66,2,1,3,0,0,0,2],[62,2,1,2,1,0,0,2],[68,2,1,2,0,0,0,2],[58,1,2,2,1,0,0,2],[72,1,1,2,0,0,0,2],[66,2,1,2,0,0,0,2],[70,1,2,3,0,0,0,2],[74,1,1,1,0,0,0,2],[46,2,20,1,0,0,0,2]]),
  pop('Tharus', 25, L, southKeys, [[54,2,4,3,0,0,0,2],[66,2,4,1,0,0,0,3]]),
  pop('UP other', 15, L, southKeys, [[53,6,20,0,0,0,0,3]]),
  pop('Gond', 33, L, southKeys, [[73,1,12,1,1,0,0,3],[80,1,10,2,0,0,0,3]]),
  pop('Chenchus', 35, L, southKeys, [[72,4,6,0,1,0,0,3],[78,2,2,0,2,0,0,3]]),
  pop('Velamas', 60, L, southKeys, [[58,3,1,0,2,0,0,2],[60,2,1,0,1,0,0,2],[58,2,2,0,2,0,0,2],[62,2,2,0,2,0,0,2],[59,2,1,0,1,0,0,2],[61,2,1,0,2,0,0,2]]),
  pop('Hakkipikkis', 27, L, southKeys, [[72,4,1,0,2,0,0,2],[74,3,2,0,1,0,0,2]]),
  pop('N. Kannadis', 57, L, southKeys, [[76,3,2,0,3,0,0,2],[74,4,3,0,2,0,0,2],[70,3,2,0,3,0,0,2],[78,3,1,0,1,0,0,2],[66,3,3,0,3,0,0,2]]),
  pop('Malayans', 18, L, southKeys, [[82,4,4,0,0,0,0,3]]),
  pop('Paniyas', 25, L, southKeys, [[80,6,4,0,0,0,0,3]]),
  pop('Sakilli', 28, L, southKeys, [[74,2,2,0,1,0,0,3],[76,2,1,0,1,0,0,3]]),
  pop('Brahmins TN', 17, L, southKeys, [[55,1,2,1,2,0,0,2]]),
  pop('L. caste', 15, L, southKeys, [[62,2,1,0,1,0,0,2]]),
  pop('Pulliyars', 33, L, southKeys, [[88,6,1,0,3,0,0,2]]),
  pop('Kurumbas', 30, L, southKeys, [[64,2,1,0,1,0,0,2],[68,2,1,0,1,0,0,2]]),
  pop('Primalai Kallars', 50, L, southKeys, [[68,2,2,0,1,0,0,2],[70,1,2,0,2,0,0,2],[69,2,1,0,1,0,0,2],[71,2,1,0,1,0,0,2]]),
  pop('North Munda', 55, L, southKeys, [[70,1,23,0,0,0,0,4],[66,1,29,0,0,0,0,4],[68,1,27,0,0,0,0,4],[72,1,23,0,0,0,0,4]]),
  pop('South Munda', 68, L, southKeys, [[60,1,33,0,0,0,0,5],[58,1,35,0,0,0,0,5],[61,1,32,0,0,0,0,5],[60,2,34,0,0,0,0,4]]),
  pop('Khasis', 22, L, southKeys, [[28,10,55,0,0,0,0,4],[38,8,45,0,0,0,0,4]]),
  pop('Nihalis', 15, L, southKeys, [[50,5,40,0,0,0,0,3]]),
  pop('Garos', 28, L, southKeys, [[20,24,52,0,0,0,0,2]]),
  pop('Nagas', 22, L, southKeys, [[0,54,44,0,0,0,0,2]]),
];

const k12Keys = ['purple', 'pg', 'yellow', 'orange', 'dark', 'light', 'cl', 'blue', 'mz', 'cb', 'cyan', 'peri', 'mauve', 'mb', 'brown', 'red', 'pink'];
const k12Colors: Record<string, string> = { purple: '#8f5aa0', pg: '#8f5aa0', yellow: '#f8f08a', orange: '#f98e24', dark: '#106c38', light: '#a3d28a', cl: '#b8e2f0', blue: '#2f6bb5', mz: '#9c87bf', mb: '#9c87bf', cb: '#b8e2f0', cyan: '#b8e2f0', peri: '#a8c4e8', mauve: '#9c87bf', brown: '#7c3a13', red: '#7b1019', pink: '#ee4f8b' };
const k8Groups: Record<string, string[]> = { lilac: ['purple', 'pink'], gold: ['pg', 'yellow', 'orange'], dark: ['dark'], light: ['light', 'cl'], blue: ['blue', 'mz', 'cb'], sky: ['cyan', 'peri', 'mauve'], brown: ['brown', 'mb'], red: ['red'] };
const k8Colors: Record<string, string> = { lilac: '#d78fc3', gold: '#ffc81e', dark: '#106c38', light: '#a3d28a', blue: '#2f6bb5', sky: '#8fbfde', brown: '#7c3a13', red: '#7b1019' };

// ---------- layout tables (text placement only) ----------
const overviewNames: [string, number][] = [['San',22],['Biaka Pygmies',52],['Mbuti Pygmies',87],['Bantus',127],['Mandenkas',168],['Yorubas',218],['Mozabites',276],['Bedouins',360],['Palestinians',460],['Druze',560],['Iranians',633],['French',686],['Sardinians',755],['North Italians',793],['Tuscans',822],['Russians',866],['Armenians',927],['Georgians',990],['Abkhasians',1038],['Balkars',1086],['North Ossetians',1127],['Chechens',1170],['Lezgins',1210],['Kumyks',1247],['Nogais',1280],['Turkmens',1318],['Tajiks',1352],['Uzbeks',1385],['Uygurs',1415]];
const overviewEastNames: [string, number][] = [['Burmese',960],['Cambodians',990],['Dai',1020],['Lahu',1042],['Miaozu',1067],['Naxi',1090],['She',1112],['Yizu',1133],['Tujia',1160],['Han',1230],['Tu',1278],['Xibo',1300],['Daur',1327],['Hezhens',1352],['Oroqens',1378],['Mongola',1403],['Japanese',1442],['PNG/B.',1491],['PNG',1522]];
const detailWestNames: [string, number][] = [['Iranians',167],['Hazaras',303],['Pathans',423],['Burushos (isolate)',562],['Balochis',704],['Brahuis',825],['Makranis',990],['Sindhis',1126]];
const detailEastNames: [string, number][] = [['Brahmins',188],['Kshatriyas',238],['Low caste',278],['Muslims',316],['Chamars',362],['Dharkars',428],['Dusadh',495],['Kanjars',555],['Kol',630],['Tharus',675],['Gond*',730],['Chenchus**',766],['Velamas',810],['Hakkipikkis',853],['N. Kannadis',893],['Malayans',935],['Sakilli',975],['Brahmins',1008],['Pulliyars',1050],['Primalai Kallars',1113],['North Munda',1165],['South Munda',1226],['Khasis',1264],['Nihalis #',1296],['Nagas $',1336]];
// labels set lower in their column: [text, column, start y]
const detailLowNames: [string, number, number][] = [['Paniyas',960,1752],['L. caste',1035,1752],['Kurumbas',1078,1752],['Garos $',1316,1752]];
// smaller word after the two Munda names: [column, start y]
const speakerNames: [number, number][] = [[1165,1780],[1226,1786]];

const kLabels: [string, number, string][] = [['k1',21,'#c09a70'],['k2',81.5,'#b8785a'],['k3',160,'#166f8f'],['k4',349,'#1c2a6a'],['k5',781,'#3f6a25'],['k6',872,'#0a2a18'],['k7',1290,'#7a5a10'],['k8',1420,'#8a2a7a']];

const groupBoxes: { t: string; x: number; y: number; w: number; h: number; bg: string; fg: string }[] = [
  { t: 'Europe', x: 187, y: 102, w: 93, h: 29, bg: '#3f55a5', fg: '#c6d0ee' },
  { t: 'Near East', x: 3.6, y: 191.5, w: 123.5, h: 30.5, bg: '#a7cdea', fg: '#111' },
  { t: 'Caucasus', x: 238, y: 245.6, w: 118, h: 30.4, bg: '#2dbdee', fg: '#123a5a' },
  { t: 'Central Asia', x: 334, y: 330.6, w: 137, h: 30.4, bg: '#b84f9e', fg: '#1c0b18' },
  { t: 'Pakistan', x: 87, y: 454.5, w: 101, h: 30.5, bg: '#6abf4b', fg: '#0c1c08' },
  { t: 'India IE', x: 423, y: 510, w: 102, h: 33, bg: '#94c83d', fg: '#0c1c08' },
  { t: 'Gujarat*', x: 295.5, y: 560.6, w: 96.5, h: 30.4, bg: '#55662a', fg: '#cfdc82' },
  { t: 'India DR', x: 364, y: 653, w: 108, h: 29, bg: '#0f7d47', fg: '#0a2a1a' },
  { t: 'India AA', x: 559, y: 533, w: 103.5, h: 36, bg: '#f36b21', fg: '#111' },
  { t: 'East Asia', x: 840.7, y: 107, w: 114.3, h: 33.7, bg: '#ffcc00', fg: '#4a3e10' },
  { t: 'Myanmar', x: 712, y: 245, w: 111, h: 32, bg: '#f2452d', fg: '#2a0a06' },
  { t: 'India TB', x: 895, y: 247, w: 102, h: 32, bg: '#7a1012', fg: '#f5e6a8' },
];
const freeLabels: [string, number, number, string][] = [
  ['Sardinians', 58, 98, '#3f55a5'], ['Spaniards', 156, 156, '#3f55a5'], ['Russians', 229, 179, '#3f55a5'],
  ['Uzbeks', 480, 225, '#b84f9e'], ['Uighurs', 595, 218, '#edbb1c'], ['Turkmens', 380, 254, '#b84f9e'],
  ['Hazaras', 552, 302, '#4fb848'], ['Iranians', 98, 308, '#b84f9e'], ['Tajiks', 267, 354, '#b84f9e'],
  ['Brahuis', 161, 421, '#4fb848'], ['Burushos', 363, 405, '#4fb848'], ['Balouchis', 157, 449, '#4fb848'],
  ['Pathans', 220, 487, '#4fb848'], ['Sindhi', 249, 516, '#4fb848'],
];

const gradients: [string, string, string][] = [
  ['gAfrica', '#ffffff', '#b8622e'], ['gMena', '#ffffff', '#62b6ea'], ['gEurope', '#ffffff', '#5a66ad'],
  ['gCauc', '#ffffff', '#4f8a72'], ['gCentral', '#ffffff', '#12b98a'], ['gSouth', '#ffffff', '#6cbf4f'],
  ['gEast', '#ffffff', '#ffc20e'], ['gOcean', '#ffffff', '#e8479b'], ['gIran', '#ffffff', '#7cc0ee'],
  ['gIE', '#ffffff', '#5db85c'], ['gBuru', '#ffffff', '#5bab80'], ['gDrav', '#ffffff', '#7f9433'],
  ['gGuj', '#ffffff', '#70bf58'], ['gDravCols', '#f4f4dc', '#8aa658'], ['gDravBox', '#8fa83e', '#86a03a'], ['gAA', '#ffffff', '#d4a850'],
  ['gTB', '#ffffff', '#6a9a70'], ['gPak', '#b0c64f', '#a0b63c'], ['gIndia', '#5a8a55', '#38703c'],
  ['gWedgeB', '#55b5ea', '#ffffff'], ['gWedgeG', '#4d9a2c', '#f7f5b0'], ['gWedgeA', '#ffffff', '#bba983'],
  ['gWedgeIn', '#ffffff', '#e6e2d4'], ['gMapSea', '#d6ebf8', '#ffffff'], ['gMapLand', '#ffffff', '#d9cda0'],
];

// ---------- scales ----------
const WIDTH = 1451;
const HEIGHT = 1920;
const pcX = d3.scaleLinear().domain([0, 1568]).range([0, 700]);
const pcY = d3.scaleLinear().domain([0, 1568]).range([0, 720]);
const eaX = d3.scaleLinear().domain([0, 960]).range([700, 1020]);
const eaY = d3.scaleLinear().domain([0, 630]).range([100, 310]);
const inX = d3.scaleLinear().domain([0, 1568]).range([660, 1451.1]);
const inY = d3.scaleLinear().domain([0, 1543]).range([280, 909.8]);
const mapX = d3.scaleLinear().domain([0, 840]).range([1148, 1428]);
const mapY = d3.scaleLinear().domain([0, 1035]).range([318, 663]);
const ovX = d3.scaleLinear().domain([0, 1568]).range([0, 730]);
const ovEastX = d3.scaleLinear().domain([0, 1568]).range([720, 1451]);
const mapLine = d3.line<Pt>().x(d => mapX(d[0])).y(d => mapY(d[1]));

const mergeK8 = (row: Row): Row => {
  const out: Row = {};
  Object.keys(k8Groups).forEach(g => { out[g] = d3.sum(k8Groups[g], k => row[k] || 0); });
  return out;
};

const Stack: React.FC<{ pops: Pop[]; xRange: [number, number]; yRange: [number, number]; merged: boolean; sep: number }> = ({ pops, xRange, yRange, merged, sep }) => {
  const x = d3.scaleLinear().domain([0, d3.sum(pops, p => p.n)]).range(xRange);
  const y = d3.scaleLinear().domain([0, 100]).range(yRange).clamp(true);
  const keys = merged ? Object.keys(k8Groups) : k12Keys;
  const colors = merged ? k8Colors : k12Colors;
  const cols: { x0: number; x1: number; row: Row }[] = [];
  const edges: number[] = [];
  let cum = 0;
  pops.forEach(p => {
    const step = p.n / p.rows.length;
    p.rows.forEach((row, i) => cols.push({ x0: cum + i * step, x1: cum + (i + 1) * step, row: merged ? mergeK8(row) : row }));
    cum += p.n;
    edges.push(cum);
  });
  const series = d3.stack<{ row: Row }>().keys(keys).value((d, k) => d.row[k] || 0)(cols);
  return (
    <g shapeRendering="crispEdges">
      {series.map(s => s.map((d, i) => d[1] > d[0] ? (
        <rect key={s.key + i} x={x(cols[i].x0)} width={x(cols[i].x1) - x(cols[i].x0) + 0.5}
          y={y(d[0])} height={y(d[1]) - y(d[0]) + 0.3} fill={colors[s.key]} />
      ) : null))}
      {edges.slice(0, -1).map(e => (
        <line key={e} x1={x(e)} x2={x(e)} y1={yRange[0]} y2={yRange[1]} stroke="#000" strokeWidth={sep} />
      ))}
    </g>
  );
};

const Rings: React.FC<{ pts: Pt[]; color: string; sx?: Scale; sy?: Scale }> = ({ pts, color, sx = pcX, sy = pcY }) => (
  <g fill="none" stroke={color} strokeWidth={1.6}>
    {pts.map((d, i) => <circle key={i} cx={sx(d[0])} cy={sy(d[1])} r={3.9} />)}
  </g>
);

const Dots: React.FC<{ pts: Pt[]; fill: string; stroke: string; sx?: Scale; sy?: Scale }> = ({ pts, fill, stroke, sx = inX, sy = inY }) => (
  <g fill={fill} stroke={stroke} strokeWidth={1.2}>
    {pts.map((d, i) => <circle key={i} cx={sx(d[0])} cy={sy(d[1])} r={5.5} />)}
  </g>
);

const Squares: React.FC<{ pts: Pt[]; fill: string; stroke: string; sx?: Scale; sy?: Scale }> = ({ pts, fill, stroke, sx = inX, sy = inY }) => (
  <g fill={fill} stroke={stroke} strokeWidth={1}>
    {pts.map((d, i) => <rect key={i} x={sx(d[0]) - 5.5} y={sy(d[1]) - 5.5} width={11} height={11} />)}
  </g>
);

const Diamonds: React.FC<{ pts: Pt[]; sx?: Scale; sy?: Scale }> = ({ pts, sx = inX, sy = inY }) => (
  <g fill="#bcd0a8" stroke="#9db48a" strokeWidth={0.9}>
    {pts.map((d, i) => <rect key={i} x={-4.2} y={-4.2} width={8.4} height={8.4} transform={`translate(${sx(d[0])},${sy(d[1])}) rotate(45)`} />)}
  </g>
);

const Down: React.FC<{ t: string; x: number; y: number; size: number }> = ({ t, x, y, size }) => (
  <text transform={`translate(${x},${y}) rotate(90)`} fontSize={size} dominantBaseline="central" fill="#1c1c1c">{t}</text>
);

const Box: React.FC<{ x0: number; x1: number; y0: number; y1: number; fill: string; stroke?: string }> = ({ x0, x1, y0, y1, fill, stroke = '#555' }) => (
  <rect x={x0} y={y0} width={x1 - x0} height={y1 - y0} fill={fill} stroke={stroke} strokeWidth={1} />
);

export default function App() {
  const eX = (v: number) => ovEastX(v);
  const mapPath = (pts: Pt[]) => mapLine(pts) + 'Z';
  const seaOutline = [[0, 545], ...mapCoast, [840, 1035], [0, 1035]] as Pt[];
  const statePaths: [Pt[], string][] = [[mapBihar, '#d2c89c'], [mapNorthEast, '#cfc296'], [mapCentral, '#d2c89c'], [mapNorth, '#d2c89c'], [mapRajasthan, '#fde078'], [mapUttar, '#fde078'], [mapGujarat, '#fde078'], [mapEastState, '#d8e59a'], [mapSouth, '#d8e59a']];
  return (
    <svg width={WIDTH} height={HEIGHT} viewBox={`0 0 ${WIDTH} ${HEIGHT}`} fontFamily="'Liberation Sans', Arial, sans-serif"
      style={{ position: 'absolute', left: 0, top: 0 }}>
      <defs>
        {gradients.map(([id, a, b]) => (
          <linearGradient key={id} id={id} x1="0" y1="0" x2="0" y2="1">
            <stop offset="0%" stopColor={a} />
            <stop offset="100%" stopColor={b} />
          </linearGradient>
        ))}
      </defs>
      <rect width={WIDTH} height={HEIGHT} fill="#fff" />

      {/* Panel A */}
      <text x={2} y={27} fontSize={29} fontWeight="bold" fill="#111">A</text>
      <rect x={42.4} y={23} width={959.6} height={692} fill="#fafaef" stroke="#000" strokeWidth={3} />

      <Rings pts={sardinians} color="#3a4da0" />
      <Rings pts={caucasus} color="#2fc0ee" />
      <Rings pts={nearEast} color="#a9c8ea" />
      <Rings pts={europeans} color="#3a4da0" />
      <Rings pts={centralAsia} color="#b84fa0" />
      <Rings pts={uighurs} color="#f0c020" />
      <Rings pts={pakistan} color="#6abf4b" />
      <Rings pts={gujaratStar} color="#5a6a2c" />
      <Rings pts={indiaIE} color="#9ccb3d" />
      <Rings pts={indiaDR} color="#128a4a" />
      <Rings pts={indiaAA} color="#f36b21" />
      <Rings pts={paleAA} color="#f9c7ad" />
      <Rings pts={indiaRed} color="#ee1c25" />
      <Rings pts={eastAsia} color="#ffcc00" sx={eaX} sy={eaY} />
      <Rings pts={myanmar} color="#ee1c25" sx={eaX} sy={eaY} />
      <Rings pts={indiaTB} color="#7a1012" sx={eaX} sy={eaY} />

      <line x1={148} x2={268} y1={158} y2={158} stroke="#d2232a" strokeWidth={1.2} />
      <circle cx={135} cy={166} r={14} fill="none" stroke="#d2232a" strokeWidth={1.3} />

      {groupBoxes.map(b => (
        <g key={b.t}>
          <rect x={b.x} y={b.y} width={b.w} height={b.h} fill={b.bg} />
          <text x={b.x + b.w / 2} y={b.y + b.h / 2 + 8} fontSize={24} textAnchor="middle" fill={b.fg}>{b.t}</text>
        </g>
      ))}
      {freeLabels.map(([t, x, y, c]) => <text key={t} x={x} y={y} fontSize={23} fill={c}>{t}</text>)}

      <rect x={487.5} y={1.4} width={98.2} height={51.4} fill="#fff" stroke="#4a2618" strokeWidth={3} />
      <text x={536.6} y={40} fontSize={35} textAnchor="middle" fill="#111">PC1</text>
      <text x={591} y={48} fontSize={23} fill="#222">4.1%</text>
      <rect x={8} y={340.7} width={99} height={54.3} fill="#fff" stroke="#4a2618" strokeWidth={3} />
      <text x={57.5} y={381} fontSize={36} textAnchor="middle" fill="#111">PC2</text>
      <text x={47} y={332} fontSize={23} fill="#222">1.1%</text>

      {/* zoom rectangle, wedge and enlarged view */}
      <polygon points="274.6,690 668.6,908.6 668.6,690" fill="url(#gWedgeA)" />
      <line x1={274.6} y1={690} x2={668.6} y2={908.6} stroke="#4a3a28" strokeWidth={1.4} />
      <rect x={274.6} y={421} width={376.4} height={269} fill="none" stroke="#4a3a28" strokeWidth={1.5} />
      <rect x={668.6} y={300} width={776} height={608.6} fill="#fff" />
      <polygon points="668.6,696 1444.6,908.6 668.6,908.6" fill="url(#gWedgeIn)" stroke="#dcd8c8" strokeWidth={1} />
      <path d="M1002,300V715H736" fill="none" stroke="#d4d4d4" strokeWidth={2.5} />
      <rect x={668.6} y={300} width={776} height={608.6} fill="none" stroke="#5c4a3a" strokeWidth={1.5} />
      <line x1={651} y1={690} x2={668.6} y2={696} stroke="#4a3a28" strokeWidth={1.2} />

      <Diamonds pts={pakistanInset} />
      <Rings pts={paleInset} color="#f9d4d4" sx={inX} sy={inY} />
      <Dots pts={gujaratInset} fill="#f5b429" stroke="#c8602c" />
      <Dots pts={uttarInset} fill="#cc6fa8" stroke="#a6498e" />
      <Squares pts={andraInset} fill="#4db0e2" stroke="#2b8cc0" />
      <Squares pts={chattisgarhInset} fill="#ee3b3b" stroke="#cc4444" />
      <Squares pts={karnatakaInset} fill="#b2cd3d" stroke="#7fa03a" />
      <Squares pts={keralaInset} fill="#16b560" stroke="#2a8a55" />
      <Squares pts={tamilInset} fill="#336b42" stroke="#244f30" />

      {/* map */}
      <rect x={1148} y={318} width={280} height={200} fill="url(#gMapLand)" />
      <path d={mapPath(seaOutline)} fill="url(#gMapSea)" />
      {statePaths.map(([pts, fill], i) => <path key={i} d={mapPath(pts)} fill={fill} stroke="#6a5836" strokeWidth={0.8} />)}
      <path d={mapLine(mapBorders) as string} fill="none" stroke="#6a5836" strokeWidth={0.8} />
      <path d={mapLine(mapBorders2) as string} fill="none" stroke="#6a5836" strokeWidth={0.8} />
      <path d={mapLine(mapCoast) as string} fill="none" stroke="#3e78a8" strokeWidth={1.6} />
      <rect x={1148} y={318} width={280} height={345} fill="none" stroke="#6a5a4a" strokeWidth={1.2} />
      <Diamonds pts={[mapPlaces[0].at]} sx={mapX} sy={mapY} />
      <Dots pts={[mapPlaces[1].at]} fill="#e8453c" stroke="#a03a30" sx={mapX} sy={mapY} />
      <Dots pts={[mapPlaces[2].at]} fill="#db8fb8" stroke="#b02c9a" sx={mapX} sy={mapY} />
      <Dots pts={[mapPlaces[3].at]} fill="#f5b429" stroke="#e8702c" sx={mapX} sy={mapY} />
      <Squares pts={[mapPlaces[4].at]} fill="#e8674a" stroke="#904030" sx={mapX} sy={mapY} />
      <Squares pts={[mapPlaces[5].at]} fill="#6fbcc0" stroke="#2b70a0" sx={mapX} sy={mapY} />
      <Squares pts={[mapPlaces[6].at]} fill="#b2d44a" stroke="#a8c848" sx={mapX} sy={mapY} />
      <Squares pts={[mapPlaces[7].at]} fill="#55804a" stroke="#2a5a3a" sx={mapX} sy={mapY} />
      <Squares pts={[mapPlaces[8].at]} fill="#16b560" stroke="#2a6a3a" sx={mapX} sy={mapY} />
      {mapPlaces.map(m => (
        <g key={m.label}>
          <rect x={inX(m.labelAt[0]) - 3} y={inY(m.labelAt[1]) - 21} width={m.label.length * 11.6 + 2} height={28} fill="#fff" opacity={0.92} />
          <text x={inX(m.labelAt[0])} y={inY(m.labelAt[1])} fontSize={23} fill="#3a2a1c">{m.label}</text>
        </g>
      ))}

      {/* Panel B overview */}
      <text x={7} y={908} fontSize={29} fontWeight="bold" fill="#111">B</text>

      <Stack pops={overviewLeft} xRange={[2.3, 666.7]} yRange={[966.7, 1050.7]} merged={false} sep={0.9} />
      <Stack pops={overviewLeft} xRange={[2.3, 666.7]} yRange={[1050.7, 1133]} merged={true} sep={0.9} />
      <Stack pops={southAsians} xRange={[666.7, 1163]} yRange={[966.7, 1050.7]} merged={false} sep={0.9} />
      <Stack pops={southAsians} xRange={[666.7, 1163]} yRange={[1050.7, 1133]} merged={true} sep={0.9} />
      <Stack pops={overviewEast} xRange={[1163, 1438]} yRange={[966.7, 1050.7]} merged={false} sep={0.9} />
      <Stack pops={overviewEast} xRange={[1163, 1438]} yRange={[1050.7, 1133]} merged={true} sep={0.9} />
      <line x1={666.7} x2={666.7} y1={966.7} y2={1133} stroke="#000" strokeWidth={0.9} />
      <line x1={1163} x2={1163} y1={966.7} y2={1133} stroke="#000" strokeWidth={0.9} />
      {kLabels.map(([t, x, c]) => <text key={t} x={x} y={1098} fontSize={23} fontWeight="bold" textAnchor="middle" fill={c}>{t}</text>)}

      <Box x0={2.3} x1={114} y0={1133} y1={1280} fill="url(#gAfrica)" />
      <Box x0={114} x1={305.4} y0={1133} y1={1280} fill="url(#gMena)" />
      <Box x0={305.4} x1={413.4} y0={1133} y1={1280} fill="url(#gEurope)" />
      <path d="M413.4,1133H605.7V1220H592.6V1280H413.4Z" fill="url(#gCauc)" stroke="#555" />
      <path d="M605.7,1133H666.7V1220H680V1280H592.6V1220H605.7Z" fill="url(#gCentral)" stroke="#555" />
      <path d="M666.7,1133H1163V1280H680V1220H666.7Z" fill="url(#gSouth)" stroke="#555" />
      <Box x0={1163} x1={1408} y0={1133} y1={1280} fill="url(#gEast)" />
      <Box x0={1408} x1={1438} y0={1133} y1={1280} fill="url(#gOcean)" />

      {overviewNames.map(([t, x]) => <Down key={t} t={t} x={ovX(x)} y={1141} size={13.5} />)}
      {overviewEastNames.map(([t, x]) => <Down key={t} t={t} x={eX(x)} y={1141} size={13.5} />)}
      <g fontSize={23} textAnchor="middle" fill="#3b2414">
        <text x={58} y={1248}>S-Saharan</text><text x={58} y={1276}>Africa</text>
        <text x={209} y={1248}>Middle East &amp;</text><text x={212} y={1276}>North Africa</text>
        <text x={357} y={1258}>Europe</text><text x={509} y={1258}>Caucasus</text>
        <text x={636} y={1248}>Central</text><text x={636} y={1276}>Asia</text>
        <text x={926} y={1259}>South Asia</text><text x={1283} y={1257}>East Asia</text>
      </g>
      <text transform="translate(1417,1185) rotate(90)" fontSize={22} fill="#7a2a6a">Oceania</text>

      {/* wedges down to the detail panel */}
      <polygon points="277,1280 305,1280 107.5,1356.7 49.3,1356.7" fill="url(#gWedgeB)" stroke="#5a3a20" strokeWidth={1} />
      <polygon points="665,1280 1163,1280 1349,1356.7 110.3,1356.7" fill="url(#gWedgeG)" stroke="#5a3a20" strokeWidth={1} />

      {/* Panel B detail */}
      <Stack pops={[iranians]} xRange={[49.3, 107.5]} yRange={[1356.7, 1518]} merged={false} sep={1.5} />
      <Stack pops={[iranians]} xRange={[49.3, 107.5]} yRange={[1518, 1677.7]} merged={true} sep={1.5} />
      <Stack pops={southAsians} xRange={[110.3, 1349.4]} yRange={[1356.7, 1518]} merged={false} sep={1.6} />
      <Stack pops={southAsians} xRange={[110.3, 1349.4]} yRange={[1518, 1677.7]} merged={true} sep={1.6} />

      <rect x={2} y={1415} width={60} height={33} fill="#fff" />
      <text x={4} y={1441} fontSize={24} fill="#111">K=12</text>
      <text x={4} y={1601} fontSize={24} fill="#111">K=8</text>

      <Box x0={49.3} x1={107.5} y0={1678} y1={1919} fill="url(#gIran)" stroke="#888" />
      <Box x0={110.3} x1={1052.4} y0={1678} y1={1884} fill="url(#gIE)" stroke="#444" />
      <Box x0={1052.4} x1={1251.5} y0={1847} y1={1884} fill="url(#gDravBox)" stroke="#444" />
      <Box x0={1052.4} x1={1251.5} y0={1678} y1={1847} fill="url(#gDravCols)" stroke="#555" />
      <Box x0={1251.5} x1={1319} y0={1678} y1={1884} fill="url(#gAA)" stroke="#555" />
      <Box x0={1319} x1={1349.4} y0={1678} y1={1884} fill="url(#gTB)" stroke="#555" />
      <Box x0={110.3} x1={559.6} y0={1884} y1={1919} fill="url(#gPak)" stroke="#444" />
      <Box x0={559.6} x1={1349.4} y0={1884} y1={1919} fill="url(#gIndia)" stroke="#444" />
      <Box x0={228} x1={296.5} y0={1678} y1={1842} fill="url(#gBuru)" />
      <Box x0={359.4} x1={427.4} y0={1678} y1={1878} fill="url(#gDrav)" />
      <Box x0={559.6} x1={786} y0={1678} y1={1847} fill="url(#gGuj)" />
      <path d="M789,1678V1822H786V1847H799V1822H797V1678" fill="url(#gGuj)" stroke="#555" />
      <Box x0={799} x1={1041.7} y0={1678} y1={1847} fill="url(#gGuj)" />
      <path d="M1044,1678V1822H1041.7V1847H1054V1822H1052V1678" fill="url(#gGuj)" stroke="#555" />
      {[1067.3, 1111.6, 1149.4, 1184].map(x => <line key={x} x1={x} x2={x} y1={1678} y2={1847} stroke="#555" />)}
      <line x1={1067.3} x2={1251.5} y1={1847} y2={1847} stroke="#555" />
      <rect x={789} y={1678} width={335} height={4} fill="#dc1f50" />
      <rect x={1184} y={1678} width={67.5} height={4} fill="#dc1f50" />
      <rect x={1339} y={1678} width={10.4} height={4} fill="#dc1f50" />

      {detailWestNames.map(([t, x]) => <Down key={t} t={t} x={ovX(x)} y={1688} size={15} />)}
      {detailEastNames.map(([t, x], i) => <Down key={t + i} t={t} x={eX(x)} y={1688} size={15} />)}
      {detailLowNames.map(([t, x, y]) => <Down key={t} t={t} x={eX(x)} y={y} size={15} />)}
      {speakerNames.map(([x, y]) => <Down key={x} t="speakers" x={eX(x)} y={y} size={12.5} />)}

      <g fontFamily="'Open Sans', sans-serif" fontWeight="bold" fontSize={14} textAnchor="middle" fill="#1e3314">
        <text x={665.7} y={1840}>Gujarat</text><text x={917} y={1840}>Uttar Pradesh</text>
        <text x={792} y={1840}>1</text><text x={1048} y={1840}>2</text><text x={1061} y={1840}>3</text>
        <text x={1090} y={1840}>A.P.</text><text x={1132} y={1840}>Kar</text><text x={1168} y={1840}>Ker</text><text x={1215.6} y={1840}>T. Nadu</text>
      </g>
      <g fontSize={23} textAnchor="middle" fill="#5a5040">
        <text x={393} y={1873}>Drav.</text><text x={607} y={1873}>Indo-European languages</text>
        <text x={1150} y={1873}>Dravidic lang.</text><text x={1285.5} y={1875}>AA</text>
      </g>
      <g fontSize={26} textAnchor="middle" fill="#50301a">
        <text x={348} y={1910}>Pakistan</text><text x={924} y={1910}>India</text>
      </g>
    </svg>
  );
}
